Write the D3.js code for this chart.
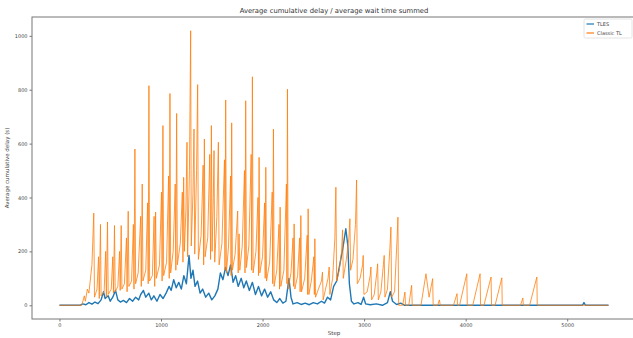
<!DOCTYPE html>
<html>
<head>
<meta charset="utf-8">
<script src="https://cdn.jsdelivr.net/npm/d3@7"></script>
<style>
  html, body { margin: 0; padding: 0; background: #fff; }
  svg { display: block; font-family: "DejaVu Sans", sans-serif; }
</style>
</head>
<body>
<svg width="633" height="338"></svg>
<script>
// TLES (blue) series
var tlesSteps = [0, 200, 230, 260, 290, 320, 350, 380, 410, 434, 450, 480, 500, 525, 552, 575, 600, 630, 660, 690,
  720, 750, 780, 800, 827, 850, 880, 905, 930, 960, 990, 1020, 1050, 1080, 1100, 1125, 1150, 1175, 1200, 1225,
  1250, 1276, 1295, 1315, 1335, 1360, 1385, 1410, 1440, 1470, 1500, 1530, 1560, 1585, 1610, 1635, 1660, 1685, 1710, 1735,
  1760, 1790, 1815, 1840, 1870, 1900, 1930, 1960, 1990, 2020, 2050, 2080, 2110, 2140, 2170, 2200, 2230, 2260, 2280, 2300,
  2340, 2380, 2420, 2460, 2500, 2540, 2580, 2610, 2640, 2670, 2700, 2730, 2760, 2790, 2820, 2840, 2855, 2875, 2900, 2940,
  2970, 2995, 3015, 3060, 3120, 3180, 3230, 3258, 3280, 3320, 3360, 3400, 5150, 5165, 5180, 5407];
var tlesValues = [0, 0, 5, 2, 10, 4, 12, 6, 20, 50, 25, 35, 15, 30, 55, 20, 12, 18, 10, 25,
  15, 30, 20, 40, 55, 30, 45, 20, 35, 15, 40, 25, 45, 70, 55, 95, 65, 85, 60, 110,
  80, 185, 100, 130, 70, 90, 45, 60, 30, 45, 20, 35, 60, 120, 95, 140, 110, 150, 85, 110,
  70, 100, 65, 90, 55, 85, 40, 70, 35, 60, 30, 50, 20, 10, 25, 8, 15, 100, 30, 5,
  10, 3, 8, 2, 10, 5, 15, 8, 30, 20, 70, 90, 150, 210, 284, 220, 80, 15, 5, 10,
  3, 30, 5, 2, 5, 0, 10, 50, 15, 3, 8, 0, 0, 10, 0, 0];

// Classic TL (orange) series: troughs and spikes
var classicSteps = [0, 220, 245, 255, 275, 290, 320, 338, 345, 370, 385, 392, 404, 410, 440, 455, 462, 473, 480, 510,
  525, 532, 542, 549, 575, 592, 598, 608, 615, 640, 660, 666, 677, 684, 710, 728, 734, 743, 750, 775,
  800, 806, 815, 822, 850, 868, 874, 881, 888, 915, 932, 938, 947, 954, 985, 1005, 1011, 1019, 1026, 1055,
  1075, 1081, 1088, 1095, 1120, 1140, 1146, 1154, 1161, 1190, 1210, 1216, 1223, 1230, 1245, 1256, 1262, 1280, 1292, 1298,
  1315, 1325, 1332, 1350, 1361, 1368, 1395, 1415, 1420, 1427, 1434, 1460, 1480, 1488, 1496, 1503, 1515, 1522, 1529, 1550,
  1565, 1572, 1600, 1625, 1630, 1637, 1644, 1665, 1685, 1690, 1696, 1703, 1730, 1755, 1760, 1769, 1776, 1800, 1822, 1827,
  1834, 1841, 1865, 1888, 1893, 1900, 1907, 1935, 1955, 1960, 1966, 1973, 2000, 2020, 2026, 2032, 2039, 2070, 2095, 2100,
  2107, 2114, 2140, 2162, 2167, 2173, 2180, 2210, 2235, 2240, 2245, 2252, 2280, 2300, 2305, 2311, 2318, 2345, 2365, 2370,
  2377, 2384, 2415, 2440, 2444, 2449, 2456, 2480, 2505, 2510, 2515, 2522, 2550, 2580, 2590, 2597, 2620, 2645, 2656, 2663,
  2690, 2712, 2722, 2729, 2755, 2778, 2788, 2795, 2825, 2850, 2860, 2867, 2890, 2915, 2926, 2933, 2960, 2985, 2991, 2998,
  3030, 3060, 3067, 3074, 3100, 3125, 3133, 3140, 3165, 3190, 3198, 3205, 3230, 3255, 3264, 3271, 3300, 3325, 3333, 3340,
  3380, 3402, 3408, 3440, 3468, 3474, 3560, 3609, 3640, 3675, 3680, 3725, 3741, 3750, 3880, 3915, 3920, 3940, 4011, 4016,
  4070, 4142, 4147, 4180, 4250, 4255, 4290, 4356, 4360, 4540, 4563, 4568, 4630, 4701, 4705, 5407];
var classicValues = [0, 0, 35, 15, 60, 45, 150, 342, 30, 60, 180, 25, 300, 35, 50, 200, 30, 309, 40, 60,
  180, 45, 296, 50, 70, 200, 55, 296, 60, 80, 250, 50, 349, 70, 90, 300, 60, 580, 80, 120,
  330, 70, 450, 90, 130, 380, 80, 815, 90, 110, 330, 70, 346, 100, 150, 420, 90, 667, 110, 160,
  480, 100, 786, 120, 200, 450, 130, 712, 150, 230, 420, 160, 475, 200, 350, 605, 180, 500, 1019, 220,
  420, 654, 190, 500, 819, 170, 260, 520, 150, 617, 180, 250, 560, 170, 667, 200, 400, 574, 160, 330,
  605, 150, 230, 540, 130, 762, 120, 220, 480, 110, 677, 130, 190, 350, 120, 265, 130, 220, 500, 120,
  759, 140, 220, 560, 130, 848, 120, 200, 400, 110, 549, 120, 180, 380, 100, 512, 90, 160, 420, 80,
  654, 70, 130, 300, 60, 364, 70, 130, 450, 80, 802, 60, 120, 250, 70, 302, 60, 110, 250, 50,
  333, 50, 100, 260, 40, 358, 40, 90, 180, 40, 247, 30, 60, 90, 123, 20, 60, 100, 142, 40,
  100, 250, 438, 90, 130, 200, 280, 100, 170, 250, 321, 130, 170, 300, 465, 80, 100, 150, 185, 40,
  50, 110, 142, 20, 40, 120, 154, 20, 50, 150, 185, 30, 60, 220, 290, 30, 50, 250, 327, 0,
  0, 49, 0, 0, 74, 0, 0, 117, 30, 99, 0, 0, 20, 0, 0, 43, 0, 0, 117, 0,
  0, 117, 0, 0, 105, 0, 0, 102, 0, 0, 27, 0, 0, 105, 0, 0];

var yTicks = [0, 200, 400, 600, 800, 1000];
var xTicks = [0, 1000, 2000, 3000, 4000, 5000];
var seriesNames = ["TLES", "Classic TL"];
var colors = ["#1f77b4", "#ff7f0e"];

var svg = d3.select("svg"),
  plotLeft = 32, plotRight = 636, plotTop = 17, plotBottom = 319;

var tles = tlesSteps.map(function(s, i) { return [s, tlesValues[i]]; });
var classic = classicSteps.map(function(s, i) { return [s, classicValues[i]]; });

// matplotlib style 5% padding
var xmax = d3.max(tlesSteps.concat(classicSteps));
var ymax = d3.max(tlesValues.concat(classicValues));
var x = d3.scaleLinear().domain([-xmax * 0.05, xmax * 1.05]).range([plotLeft, plotRight]);
var y = d3.scaleLinear().domain([-ymax * 0.05, ymax * 1.05]).range([plotBottom, plotTop]);

var line = d3.line().x(function(d) { return x(d[0]); }).y(function(d) { return y(d[1]); });

var plot = svg.append("g");
plot.append("path").datum(tles)
  .attr("d", line).attr("fill", "none")
  .attr("stroke", colors[0]).attr("stroke-width", 1.4).attr("stroke-linejoin", "round");
plot.append("path").datum(classic)
  .attr("d", line).attr("fill", "none")
  .attr("stroke", colors[1]).attr("stroke-width", 1).attr("stroke-opacity", 0.8).attr("stroke-linejoin", "round");

// frame
svg.append("rect")
  .attr("x", plotLeft).attr("y", plotTop)
  .attr("width", plotRight - plotLeft).attr("height", plotBottom - plotTop)
  .attr("fill", "none").attr("stroke", "#777").attr("stroke-width", 1);

var xAxis = svg.append("g").attr("transform", "translate(0," + plotBottom + ")")
  .call(d3.axisBottom(x).tickValues(xTicks).tickSize(2.5).tickPadding(2).tickFormat(d3.format("d")));
var yAxis = svg.append("g").attr("transform", "translate(" + plotLeft + ",0)")
  .call(d3.axisLeft(y).tickValues(yTicks).tickSize(2.5).tickPadding(2).tickFormat(d3.format("d")));

[xAxis, yAxis].forEach(function(a) {
  a.select(".domain").remove();
  a.selectAll(".tick line").attr("stroke", "#777");
  a.selectAll(".tick text").attr("fill", "#444").style("font-size", "5px").style("font-family", "DejaVu Sans");
});

svg.append("text")
  .attr("x", (plotLeft + plotRight) / 2).attr("y", 13)
  .attr("text-anchor", "middle").attr("fill", "#333")
  .style("font-size", "6.8px")
  .text("Average cumulative delay / average wait time summed");

svg.append("text")
  .attr("x", (plotLeft + plotRight) / 2).attr("y", 335)
  .attr("text-anchor", "middle").attr("fill", "#444")
  .style("font-size", "5.5px")
  .text("Step");

svg.append("text")
  .attr("transform", "translate(9," + (plotTop + plotBottom) / 2 + ") rotate(-90)")
  .attr("text-anchor", "middle").attr("fill", "#444")
  .style("font-size", "5.5px")
  .text("Average cumulative delay (s)");

// legend
var legend = svg.append("g").attr("transform", "translate(584,19)");
legend.append("rect")
  .attr("width", 48).attr("height", 19).attr("rx", 1.5)
  .attr("fill", "#fff").attr("fill-opacity", 0.8).attr("stroke", "#ddd").attr("stroke-width", 0.8);
seriesNames.forEach(function(name, i) {
  var g = legend.append("g").attr("transform", "translate(0," + (5 + i * 9) + ")");
  g.append("line").attr("x1", 2.5).attr("x2", 10)
    .attr("stroke", colors[i]).attr("stroke-width", 1.2);
  g.append("text").attr("x", 13).attr("dy", "0.35em")
    .attr("fill", "#444").style("font-size", "5px").text(name);
});
</script>
</body>
</html>
